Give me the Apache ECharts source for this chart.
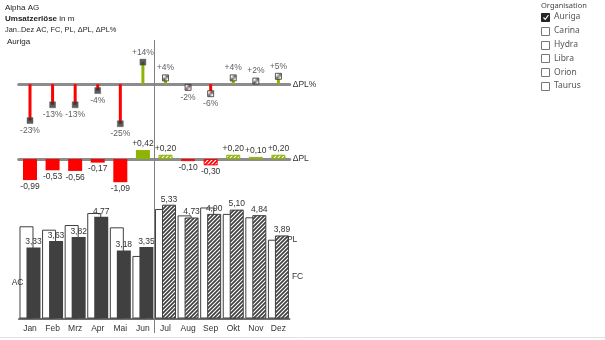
<!DOCTYPE html>
<html>
<head>
<meta charset="utf-8">
<script src="https://cdn.jsdelivr.net/npm/echarts@6/dist/echarts.min.js"></script>
<style>
  html, body { margin: 0; padding: 0; background: #fff; }
  #chart { width: 605px; height: 340px; }
</style>
</head>
<body>
<div id="chart"></div>
<script>
// Monthly revenue (in m): actuals Jan–Jun, forecast Jul–Dez, plan and variances
const months = ['Jan', 'Feb', 'Mrz', 'Apr', 'Mai', 'Jun', 'Jul', 'Aug', 'Sep', 'Okt', 'Nov', 'Dez'];
const actual   = [3.33, 3.63, 3.82, 4.77, 3.18, 3.35, null, null, null, null, null, null];
const forecast = [null, null, null, null, null, null, 5.33, 4.73, 4.90, 5.10, 4.84, 3.89];
const plan     = [4.32, 4.16, 4.38, 4.94, 4.27, 2.93, 5.13, 4.83, 5.20, 4.90, 4.74, 3.69];
const deltaPL  = [-0.99, -0.53, -0.56, -0.17, -1.09, 0.42, 0.20, -0.10, -0.30, 0.20, 0.10, 0.20];
const deltaPct = [-23, -13, -13, -4, -25, 14, 4, -2, -6, 4, 2, 5];
const organisations = ['Auriga', 'Carina', 'Hydra', 'Libra', 'Orion', 'Taurus'];
const selectedOrg = 'Auriga';

const RED = '#ff0000';
const GREEN = '#8cb400';
const DARK = '#404040';
const AXIS_GREY = '#8c8c8c';
const TEXT = '#333333';
const FONT = '"Liberation Sans", Arial, sans-serif';

// Diagonal hatch fill used for forecast values
function hatch(bg, fg, lw, size) {
  const c = document.createElement('canvas');
  c.width = c.height = size;
  const g = c.getContext('2d');
  g.fillStyle = bg;
  g.fillRect(0, 0, size, size);
  g.strokeStyle = fg;
  g.lineWidth = lw;
  g.beginPath();
  g.moveTo(0, size); g.lineTo(size, 0);
  g.moveTo(-size / 2, size / 2); g.lineTo(size / 2, -size / 2);
  g.moveTo(size / 2, size * 1.5); g.lineTo(size * 1.5, size / 2);
  g.stroke();
  return { image: c, repeat: 'repeat' };
}

const isFc = i => forecast[i] != null;
const comma = (v, d) => v.toFixed(d).replace('.', ',');
const signed = (v, d) => (v > 0 ? '+' : '') + comma(v, d);

const labelBase = { fontFamily: FONT, fontSize: 8.5, color: TEXT };

// ΔPL% pins: stems + square heads
const pinStems = deltaPct.map(v => ({
  value: v,
  itemStyle: { color: v >= 0 ? GREEN : RED }
}));
const pinHeads = deltaPct.map((v, i) => ({
  value: v,
  itemStyle: isFc(i)
    ? { color: hatch('#ffffff', '#333333', 1, 3), borderColor: '#333333', borderWidth: 1 }
    : { color: '#333333', borderColor: '#555555', borderWidth: 0.5 },
  label: { show: true, position: v >= 0 ? 'top' : 'bottom', distance: 2,
           formatter: (v > 0 ? '+' : '') + v + '%', ...labelBase }
}));

// ΔPL bars
const deltaBars = deltaPL.map((v, i) => {
  const col = v >= 0 ? GREEN : RED;
  return {
    value: v,
    itemStyle: isFc(i)
      ? { color: hatch(col, '#ffffff', 1.1, 4), borderColor: col, borderWidth: 1 }
      : { color: col },
    label: { show: true, position: v >= 0 ? 'top' : 'bottom', distance: 2,
             formatter: signed(v, 2), ...labelBase }
  };
});

// Plan bars (outline), with series name at the last bar
const planBars = plan.map((v, i) => {
  const item = { value: v };
  if (i === plan.length - 1) {
    item.label = { show: true, position: ['100%', 0], offset: [5, 0], verticalAlign: 'middle',
                   align: 'left', formatter: 'PL', ...labelBase };
  }
  return item;
});

// Actual / forecast bars
const hatchDark = hatch('#ffffff', DARK, 1.7, 4);
const mainBars = months.map((m, i) => {
  const fc = isFc(i);
  const v = fc ? forecast[i] : actual[i];
  return {
    value: v,
    itemStyle: fc ? { color: hatchDark, borderColor: DARK, borderWidth: 1 } : { color: DARK },
    label: { show: true, position: 'top', distance: 1, formatter: comma(v, 2), ...labelBase }
  };
});
const firstAc = actual.findIndex(v => v != null);
const lastFc = forecast.length - 1;

const grids = [
  { left: 18.7, width: 271, top: 40, height: 99.5 },
  { left: 18.7, width: 271, top: 141.96, height: 44.73 },
  { left: 18.7, width: 271, top: 190.4, height: 128.1 }
];

function catAxis(gridIndex, extra) {
  return Object.assign({
    type: 'category', gridIndex, data: months,
    axisTick: { show: false }, axisLabel: { show: false },
    splitLine: { show: false }
  }, extra);
}
function valAxis(gridIndex, min, max) {
  return { type: 'value', gridIndex, min, max, show: false, splitLine: { show: false } };
}

const chart = echarts.init(document.getElementById('chart'), null, { renderer: 'canvas' });

const option = {
  animation: false,
  backgroundColor: '#ffffff',
  textStyle: { fontFamily: FONT },
  grid: grids,
  xAxis: [
    catAxis(0, {
      axisLine: { show: true, onZero: true, lineStyle: { color: AXIS_GREY, width: 3 } },
      name: 'ΔPL%', nameLocation: 'end', nameGap: 3,
      nameTextStyle: { fontFamily: FONT, fontSize: 8.5, color: TEXT }
    }),
    catAxis(1, {
      axisLine: { show: true, onZero: true, lineStyle: { color: AXIS_GREY, width: 3 } },
      name: 'ΔPL', nameLocation: 'end', nameGap: 3,
      nameTextStyle: { fontFamily: FONT, fontSize: 8.5, color: TEXT }
    }),
    catAxis(2, {
      axisLine: { show: true, lineStyle: { color: DARK, width: 1.5 } },
      axisLabel: { show: true, margin: 6, fontFamily: FONT, fontSize: 8.5, color: TEXT }
    })
  ],
  yAxis: [valAxis(0, -35, 28), valAxis(1, -1.3, 0.8), valAxis(2, 0, 6)],
  series: [
    {
      name: 'ΔPL% Stiel', type: 'bar', xAxisIndex: 0, yAxisIndex: 0,
      barWidth: 3, data: pinStems, silent: true
    },
    {
      name: 'ΔPL%', type: 'scatter', xAxisIndex: 0, yAxisIndex: 0,
      symbol: 'rect', symbolSize: 6, data: pinHeads, z: 3
    },
    {
      name: 'ΔPL', type: 'bar', xAxisIndex: 1, yAxisIndex: 1,
      barWidth: 14, data: deltaBars
    },
    {
      name: 'PL', type: 'bar', xAxisIndex: 2, yAxisIndex: 2,
      barWidth: 14, barGap: '-50%',
      itemStyle: { color: '#ffffff', borderColor: DARK, borderWidth: 1 },
      data: planBars
    },
    {
      name: 'AC/FC', type: 'bar', xAxisIndex: 2, yAxisIndex: 2,
      barWidth: 14, barGap: '-50%',
      data: mainBars
    }
  ]
};

chart.setOption(option);

// Bar geometry from the rendered AC/FC series, used to tag it with its names
const mainData = chart.getModel().getSeriesByIndex(4).getData();
const acRect = mainData.getItemLayout(firstAc);
const fcRect = mainData.getItemLayout(lastFc);

// Separator between actual and forecast months
const xJun = chart.convertToPixel({ xAxisIndex: 2 }, 'Jun');
const xJul = chart.convertToPixel({ xAxisIndex: 2 }, 'Jul');
const sepX = Math.round((xJun + xJul) / 2) + 0.5;

const txt = (x, y, text, extra) => ({
  type: 'text', x, y, z: 20,
  style: Object.assign({ text, font: '8px ' + FONT, fill: '#222', verticalAlign: 'middle' }, extra)
});

const graphics = [
  { type: 'line', shape: { x1: sepX, y1: 40, x2: sepX, y2: 333 },
    style: { stroke: '#808080', lineWidth: 1 }, z: 10 },
  { type: 'line', shape: { x1: 0, y1: 337.5, x2: 605, y2: 337.5 },
    style: { stroke: '#e3e3e3', lineWidth: 1 } },
  // header
  txt(5, 8, 'Alpha AG'),
  { type: 'text', x: 5, y: 19, z: 20,
    style: { text: '{b|Umsatzerlöse} in m', font: '8px ' + FONT, fill: '#222', verticalAlign: 'middle',
             rich: { b: { font: 'bold 8px ' + FONT, fill: '#222' } } } },
  txt(5, 30, 'Jan..Dez AC, FC, PL, ΔPL, ΔPL%', { font: '7.4px ' + FONT }),
  txt(7, 42, 'Auriga'),
  // series tags
  txt(acRect.x - 3, acRect.y + acRect.height / 2, 'AC', { font: '8.5px ' + FONT, fill: TEXT, align: 'right' }),
  txt(fcRect.x + fcRect.width + 3, fcRect.y + fcRect.height / 2, 'FC', { font: '8.5px ' + FONT, fill: TEXT }),
  // organisation filter
  { type: 'text', x: 541, y: 6,
    style: { text: 'Organisation', font: '7.5px "Noto Sans", sans-serif', fill: '#444', verticalAlign: 'middle' } }
];
organisations.forEach((org, i) => {
  const cy = 17 + i * 13.8;
  const checked = org === selectedOrg;
  graphics.push({
    type: 'rect', shape: { x: 541.5, y: Math.round(cy - 4) + 0.5, width: 8, height: 8 },
    style: { fill: checked ? '#252525' : '#ffffff', stroke: checked ? '#252525' : '#777', lineWidth: 1 }
  });
  if (checked) {
    graphics.push({
      type: 'polyline',
      shape: { points: [[543.5, cy + 0.5], [545.3, cy + 2.3], [548.5, cy - 2]] },
      style: { stroke: '#ffffff', lineWidth: 1.2, fill: null }
    });
  }
  graphics.push({
    type: 'text', x: 554, y: cy,
    style: { text: org, font: '8.5px "Noto Sans", sans-serif', fill: '#555', verticalAlign: 'middle' }
  });
});
chart.setOption({ graphic: graphics });
</script>
</body>
</html>
